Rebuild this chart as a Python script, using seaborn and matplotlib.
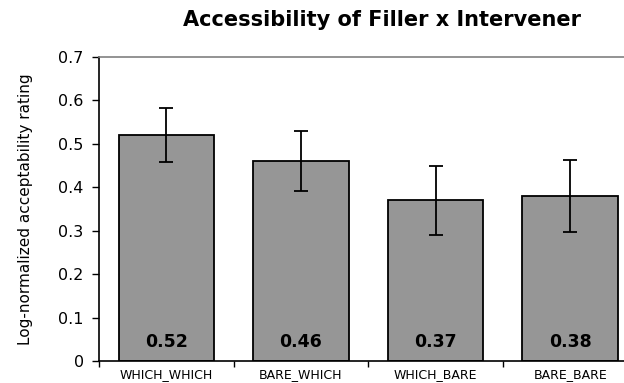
import pandas as pd
import matplotlib
matplotlib.use("Agg")
import matplotlib.pyplot as plt
import seaborn as sns

# Data
conditions = ['WHICH_WHICH', 'BARE_WHICH', 'WHICH_BARE', 'BARE_BARE']
ratings = [0.52, 0.46, 0.37, 0.38]
errors = [0.062, 0.069, 0.080, 0.082]
value_labels = ['0.52', '0.46', '0.37', '0.38']
y_ticks = [0, 0.1, 0.2, 0.3, 0.4, 0.5, 0.6, 0.7]
y_tick_labels = ['0', '0.1', '0.2', '0.3', '0.4', '0.5', '0.6', '0.7']

sns.set_style('white')
plt.rcParams['font.family'] = ['DejaVu Sans']
plt.rcParams['text.color'] = 'black'
plt.rcParams['axes.labelcolor'] = 'black'
plt.rcParams['xtick.color'] = 'black'
plt.rcParams['ytick.color'] = 'black'

df = pd.DataFrame({'condition': conditions, 'rating': ratings})

fig = plt.figure(figsize=(6.24, 3.83), dpi=100)
ax = fig.add_axes([99 / 624, 1 - 361 / 383, 538.5 / 624, 304 / 383])

sns.barplot(data=df, x='condition', y='rating', color='#969696',
            saturation=1, width=0.71, edgecolor='black', linewidth=1.3,
            errorbar=None, ax=ax)
ax.errorbar(conditions, ratings, yerr=errors, fmt='none', ecolor='black',
            elinewidth=1.3, capsize=5, capthick=1.3)

# value labels inside the bars
for i, lab in enumerate(value_labels):
    ax.text(i, 0.032, lab, ha='center', va='baseline', fontsize=12.5,
            fontweight='bold')

ax.set_xlim(-0.5, 3.5)
ax.set_ylim(0, 0.7)
ax.set_yticks(y_ticks)
ax.set_yticklabels(y_tick_labels, fontsize=11.5)

# Excel style: ticks on category boundaries, labels centred
ax.set_xticks([-0.5, 0.5, 1.5, 2.5, 3.5])
ax.set_xticklabels([])
ax.set_xticks(range(len(conditions)), minor=True)
ax.set_xticklabels(conditions, minor=True, fontsize=9)
ax.tick_params(axis='x', which='minor', length=0, pad=5)
ax.tick_params(axis='x', which='major', length=4, width=1, direction='out',
               bottom=True)
ax.tick_params(axis='y', length=5, width=1, direction='out', left=True,
               pad=6)

ax.set_xlabel('')
ax.set_ylabel('Log-normalized acceptability rating', fontsize=11,
              labelpad=18)
fig.text(382 / 624, 1 - 26 / 383, 'Accessibility of Filler x Intervener',
         ha='center', va='baseline', fontsize=15, fontweight='bold')

ax.spines['left'].set_color('black')
ax.spines['bottom'].set_color('black')
ax.spines['top'].set_color('#808080')
for side in ['left', 'bottom', 'top']:
    ax.spines[side].set_linewidth(1.2)
ax.spines['right'].set_visible(False)

fig.savefig('out.png', dpi=100)
